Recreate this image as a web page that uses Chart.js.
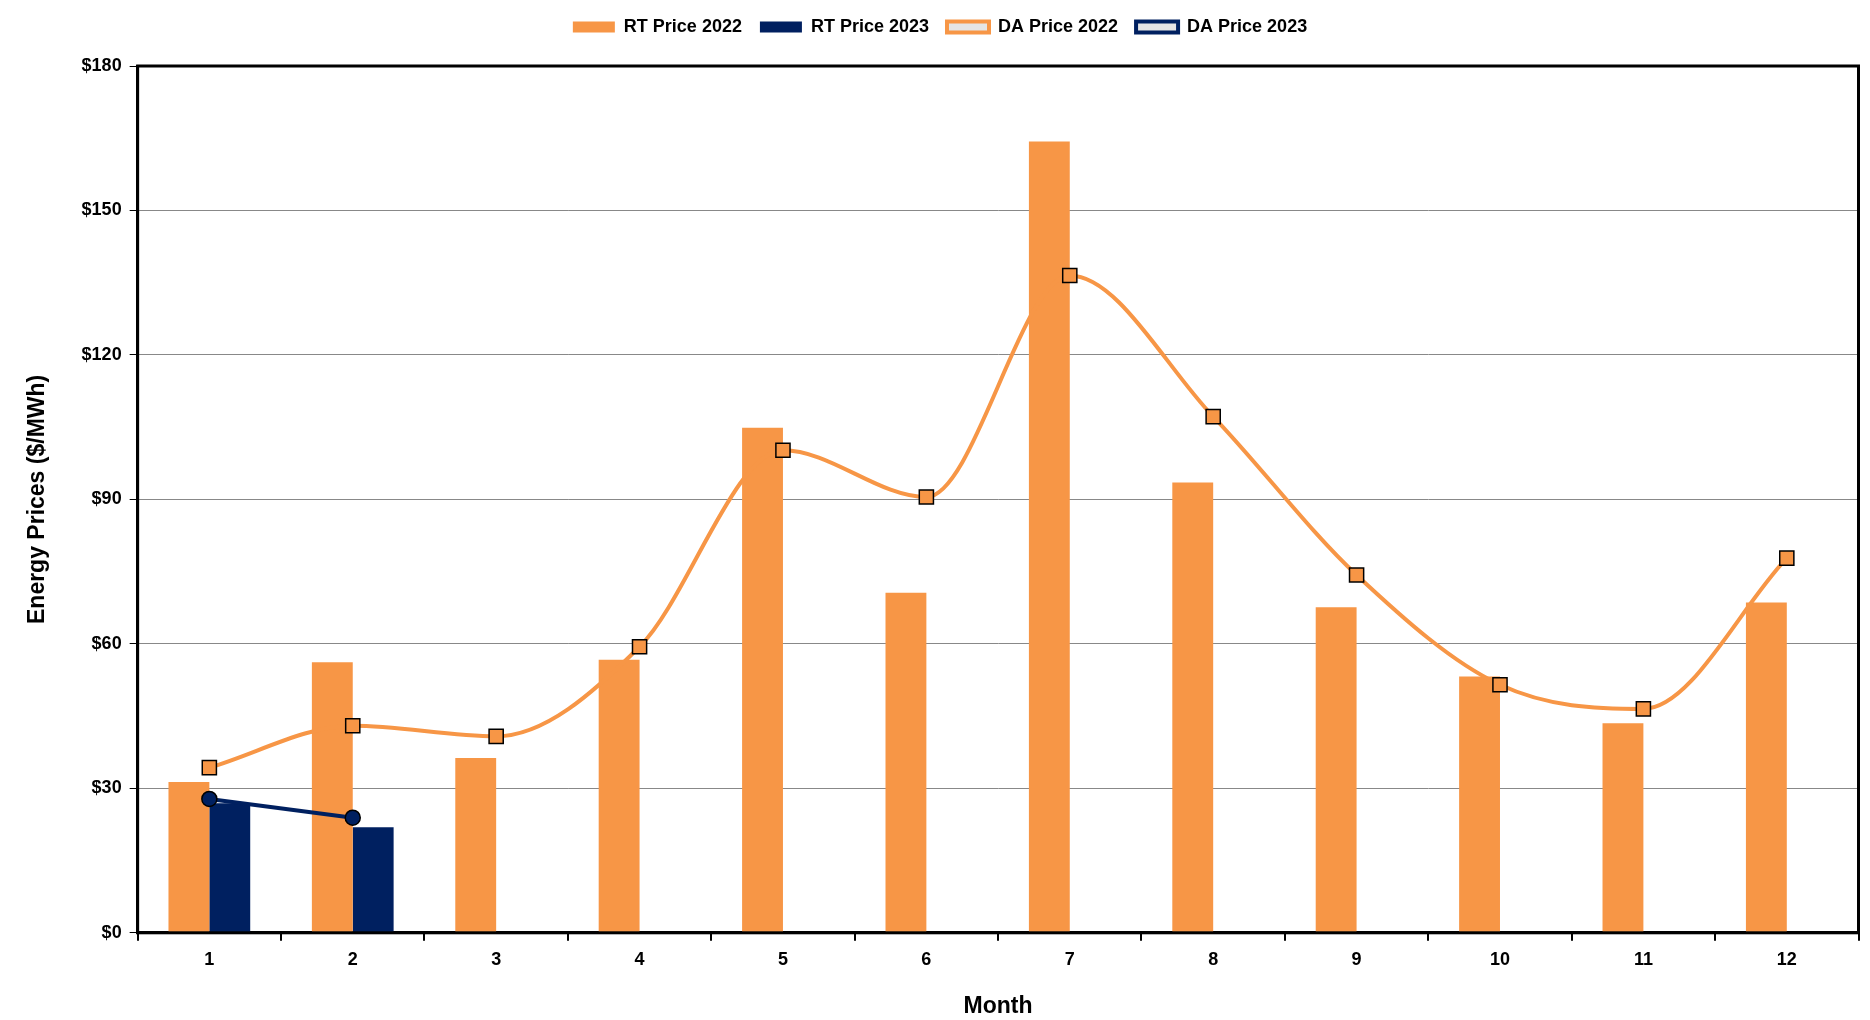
<!DOCTYPE html>
<html><head><meta charset="utf-8">
<script src="https://cdn.jsdelivr.net/npm/chart.js@4"></script>
<style>html,body{margin:0;background:#fff}#wrap{width:1870px;height:1020px}</style>
</head><body><div id="wrap"><canvas id="c"></canvas></div>
<script>
const months = ['1','2','3','4','5','6','7','8','9','10','11','12'];
const rt2022 = [31.3, 56.2, 36.3, 56.7, 104.9, 70.6, 164.3, 93.5, 67.6, 53.2, 43.5, 68.6];
const rt2023 = [26.9, 21.9, null, null, null, null, null, null, null, null, null, null];
const da2022 = [34.3, 43.0, 40.8, 59.4, 100.2, 90.5, 136.5, 107.2, 74.3, 51.5, 46.5, 77.8];
const da2023 = [27.8, 23.9, null, null, null, null, null, null, null, null, null, null];
const yTicks = [0, 30, 60, 90, 120, 150, 180];

const orange = '#F79646', navy = '#002060';
Chart.defaults.font.family = 'Arial, "Liberation Sans"';
Chart.defaults.font.weight = 'bold';
Chart.defaults.font.size = 18;
Chart.defaults.color = '#000';

new Chart(document.getElementById('c'), {
  data: {
    labels: months,
    datasets: [
      {type: 'line', label: 'DA Price 2022', data: da2022, borderColor: orange, borderWidth: 4,
       cubicInterpolationMode: 'monotone', pointStyle: 'rect', pointRadius: 10,
       pointBackgroundColor: orange, pointBorderColor: '#000', pointBorderWidth: 1.5, order: 1},
      {type: 'line', label: 'DA Price 2023', data: da2023, borderColor: navy, borderWidth: 4,
       pointStyle: 'circle', pointRadius: 7.5, pointBackgroundColor: navy, pointBorderColor: '#000',
       pointBorderWidth: 1.5, order: 0},
      {type: 'bar', label: 'RT Price 2022', data: rt2022, backgroundColor: orange, order: 2,
       categoryPercentage: 0.57, barPercentage: 1},
      {type: 'bar', label: 'RT Price 2023', data: rt2023, backgroundColor: navy, order: 3,
       categoryPercentage: 0.57, barPercentage: 1}
    ]
  },
  options: {
    responsive: true, maintainAspectRatio: false, animation: false,
    layout: {padding: {left: 20, right: 10, top: 0, bottom: 0}},
    plugins: {
      legend: {position: 'top', labels: {boxWidth: 42, boxHeight: 11, padding: 18,
        sort: (a, b) => [2,3,0,1].indexOf(a.datasetIndex) - [2,3,0,1].indexOf(b.datasetIndex)}},
      tooltip: {enabled: false}
    },
    scales: {
      x: {
        grid: {drawOnChartArea: false, color: '#000', lineWidth: 2, tickLength: 8, offset: true},
        border: {color: '#000', width: 3},
        ticks: {padding: 8},
        title: {display: true, text: 'Month', font: {size: 23, weight: 'bold'}, padding: {top: 14, bottom: 0}}
      },
      y: {
        min: 0, max: 180,
        afterBuildTicks: s => { s.ticks = yTicks.map(v => ({value: v})); },
        grid: {color: '#888', lineWidth: 1, tickLength: 8, tickColor: '#000'},
        border: {color: '#000', width: 3},
        ticks: {callback: v => '$' + v, padding: 8},
        title: {display: true, text: 'Energy Prices ($/MWh)', font: {size: 23, weight: 'bold'}, padding: {bottom: 22}}
      }
    }
  },
  plugins: [{
    id: 'legendGap',
    beforeInit(ch) {
      const fit = ch.legend.fit;
      ch.legend.fit = function () { fit.call(this); this.height += 20; };
    }
  }, {
    id: 'frame',
    afterDraw(ch) {
      const a = ch.chartArea, c = ch.ctx;
      c.save(); c.strokeStyle = '#000'; c.lineWidth = 3;
      c.strokeRect(a.left, a.top, a.right - a.left, a.bottom - a.top); c.restore();
    }
  }]
});
</script></body></html>
